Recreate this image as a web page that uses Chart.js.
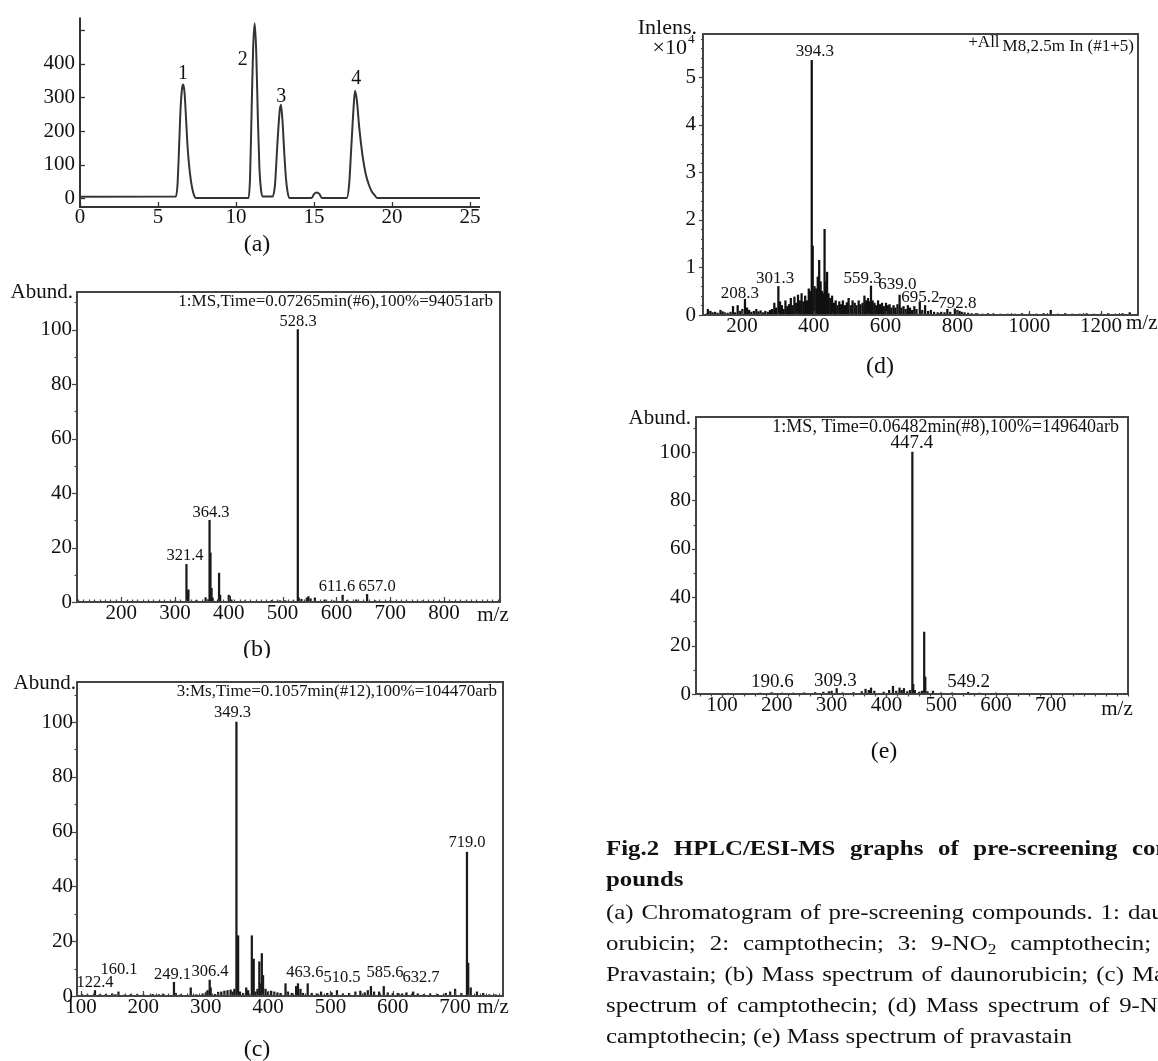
<!DOCTYPE html>
<html><head><meta charset="utf-8">
<script src="https://cdn.jsdelivr.net/npm/chart.js@4.4.1/dist/chart.umd.min.js"></script>
<style>
html,body{margin:0;padding:0;background:#fff;}
body{width:1158px;height:1061px;position:relative;overflow:hidden;}
canvas{position:absolute;}
#cap{position:absolute;left:606px;top:0;width:512px;height:1061px;transform:scaleX(1.13);transform-origin:0 0;font-family:"Liberation Serif","Times New Roman",serif;font-size:22px;color:#111;}
.ln{position:absolute;left:0;width:512px;height:31px;line-height:31px;white-space:nowrap;}
.j{display:flex;justify-content:space-between;}
.b{font-weight:bold;}
sub{font-size:0.7em;vertical-align:-0.25em;line-height:0;}
</style></head><body>
<canvas id="ca" width="500" height="258" style="left:0;top:0"></canvas>
<canvas id="cb" width="520" height="400" style="left:0;top:258px"></canvas>
<canvas id="cc" width="520" height="401" style="left:0;top:660px"></canvas>
<canvas id="cd" width="558" height="385" style="left:600px;top:0"></canvas>
<canvas id="ce" width="558" height="380" style="left:600px;top:390px"></canvas>
<div id="cap">
<div class="ln j b" style="top:832px"><span>Fig.2</span><span>HPLC/ESI-MS</span><span>graphs</span><span>of</span><span>pre-screening</span><span>com-</span></div>
<div class="ln b" style="top:863px">pounds</div>
<div class="ln j" style="top:896px"><span>(a)</span><span>Chromatogram</span><span>of</span><span>pre-screening</span><span>compounds.</span><span>1:</span><span>daun-</span></div>
<div class="ln j" style="top:927px"><span>orubicin;</span><span>2:</span><span>camptothecin;</span><span>3:</span><span>9-NO<sub>2</sub></span><span>camptothecin;</span><span>4:</span></div>
<div class="ln j" style="top:958px"><span>Pravastain;</span><span>(b)</span><span>Mass</span><span>spectrum</span><span>of</span><span>daunorubicin;</span><span>(c)</span><span>Mass</span></div>
<div class="ln j" style="top:989px"><span>spectrum</span><span>of</span><span>camptothecin;</span><span>(d)</span><span>Mass</span><span>spectrum</span><span>of</span><span>9-NO<sub>2</sub></span></div>
<div class="ln" style="top:1020px">camptothecin; (e) Mass spectrum of pravastain</div>
</div>
<script>
const SERIF='"Liberation Serif","Times New Roman",serif';

// ---------- (a) chromatogram ----------
const aTime  =[0,6.15,6.25,6.35,6.45,6.55,6.62,6.7,6.8,6.9,7.0,7.1,7.2,7.3,7.42,10.8,10.9,11.0,11.1,11.2,11.3,11.4,11.5,11.6,11.7,12.35,12.5,12.65,12.8,12.88,12.98,13.1,13.2,13.3,13.42,14.85,15.0,15.17,15.35,15.5,17.1,17.25,17.4,17.55,17.63,17.75,17.9,18.1,18.3,18.5,18.7,18.9,19.05,25.64];
const aSignal=[4,5,40,150,270,330,339,315,235,150,95,55,28,10,0,0,60,260,450,521,430,240,90,25,5,5,40,160,260,278,230,130,60,20,0,0,12,17,12,0,0,40,160,280,320,290,210,130,75,42,20,8,0,0];
const aTicksX=[0,5,10,15,20,25];
const aTicksY=[0,100,200,300,400];
const aPeakText=['1','2','3','4'];
const aPeakPos=[[6.6,370],[10.44,412],[12.9,303],[17.7,356]];

// ---------- (b) daunorubicin ----------
const bMz   =[150,175,210,240,270,300,321.4,323,325,340,357,362,364.3,366,368,370,380,382,384,400,402,405,430,480,495,505,520,528.3,530,535,545,548,552,560,578,595,611.6,620,637,657,672,700,730,760,790,840,870];
const bAbund=[0.3,0.2,0.3,0.2,0.3,0.4,13.8,4,4.5,0.6,1.6,0.8,30,18,5,1.5,0.8,10.6,2.5,2.5,2,0.8,0.4,0.6,0.5,0.5,0.4,100,1.5,1,1.5,2,1.2,1.5,0.8,0.4,2.5,0.6,0.8,2.8,0.5,0.4,0.3,0.4,0.3,0.3,0.2];
const bTicksX=[200,300,400,500,600,700,800];
const bTicksY=[0,20,40,60,80,100];
const bLabelText=['528.3','364.3','321.4','611.6','657.0'];
const bLabelPos=[[528.8,102.8],[367,32.7],[318.7,16.9],[601,5.5],[675.6,5.5]];
const bHeader='1:MS,Time=0.07265min(#6),100%=94051arb';

// ---------- (c) camptothecin ----------
const cMz   =[102,110,122.4,130,140,150,155,160.1,170,180,190,200,215,225,232,249.1,252,260,276,285,295,300,303,306.4,308,315,320,325,330,335,340,343,346,349.3,352,355,360,365,368,374,377,380,383,386,389,390,392,396,400,405,410,415,420,428,432,438,445,448,452,456,463.6,470,478,485,495,502,510.5,520,530,540,548,555,560,565,570,578,585.6,592,600,608,615,622,632.7,640,650,660,672,685,692,700,710,719,721,725,735,745,755,765];
const cAbund=[0.5,0.4,2,0.5,0.6,0.8,0.5,1.5,0.4,0.6,0.5,0.4,0.6,0.5,0.7,5,1,0.5,3,0.5,0.8,1.2,2,5.8,3,0.6,1.4,1.5,1.8,2,2.2,1.5,2.5,100,22,1.5,1,3,2,22,13.5,1.5,2.5,12.5,4.5,15.5,7.5,2.5,1.5,1.8,1.5,1.2,1,4.5,1.5,1,3.5,4.5,2.5,1,4.5,1,0.8,1.5,1,1.2,2,0.8,1,1.5,1.8,1.2,2,3.5,1.5,1.5,3.5,1.2,1,1,0.8,1.2,1.5,0.8,0.6,0.8,0.6,1,1.5,2.5,1,52.5,12,3,1.5,1,0.5,0.5];
const cTicksX=[100,200,300,400,500,600,700];
const cTicksY=[0,20,40,60,80,100];
const cLabelText=['349.3','719.0','122.4','160.1','249.1','306.4','463.6','510.5','585.6','632.7'];
const cLabelPos=[[343,103.3],[719,55.8],[122.5,4.7],[161,9.5],[246.8,7.7],[306.9,8.8],[459,8.4],[518.6,6.6],[587.6,8.4],[645.3,6.6]];
const cHeader='3:Ms,Time=0.1057min(#12),100%=104470arb';

// ---------- (d) 9-NO2 camptothecin (x10^4) ----------
const dMz =[105,112,118,125,132,140,146,152,160,168,175,181,188,195,201,208.3,214,220,226,233,240,246,252,259,265,272,278,284,290,295,301.3,306,311,316,321,326,331,336,341,346,351,356,361,366,371,376,381,386,390,394.3,397,402,407,411,415,419,423,427,430,433,437,441,446,451,456,461,466,471,476,481,487,492,497,503,508,514,519,525,530,536,541,546,551,555,559.3,564,569,574,579,584,590,595,601,606,611,616,622,627,633,639,644,650,656,662,668,674,680,686,695.2,702,710,718,726,735,745,755,764,772,780,792.8,800,806,812,820,830,840,855,870,885,900,920,940,960,980,1000,1020,1040,1060,1080,1100,1120,1140,1160,1180,1200,1220,1240,1260,1280];
const dInt=[0.12,0.08,0.05,0.06,0.04,0.1,0.07,0.05,0.04,0.06,0.18,0.05,0.2,0.08,0.12,0.33,0.15,0.1,0.06,0.08,0.12,0.07,0.09,0.05,0.08,0.06,0.1,0.12,0.25,0.15,0.6,0.28,0.2,0.12,0.3,0.18,0.22,0.35,0.2,0.38,0.25,0.42,0.3,0.45,0.28,0.4,0.3,0.55,0.5,5.35,1.45,0.6,0.55,0.8,1.15,0.7,0.5,0.45,1.8,0.7,0.9,0.45,0.35,0.4,0.25,0.3,0.2,0.28,0.22,0.3,0.2,0.26,0.35,0.2,0.3,0.25,0.2,0.3,0.22,0.25,0.4,0.3,0.35,0.28,0.61,0.3,0.25,0.2,0.3,0.22,0.25,0.18,0.25,0.2,0.22,0.15,0.2,0.15,0.22,0.42,0.15,0.18,0.12,0.2,0.15,0.1,0.18,0.12,0.27,0.1,0.2,0.08,0.1,0.06,0.05,0.06,0.05,0.12,0.06,0.13,0.1,0.08,0.06,0.05,0.04,0.03,0.03,0.02,0.03,0.02,0.02,0.02,0.02,0.03,0.02,0.02,0.03,0.1,0.02,0.03,0.02,0.02,0.03,0.02,0.02,0.03,0.02,0.03,0.05];
const dTicksX=[200,400,600,800,1000,1200];
const dTicksY=[0,1,2,3,4,5];
const dLabelText=['394.3','208.3','301.3','559.3','639.0','695.2','792.8'];
const dLabelPos=[[403,5.53],[194,0.46],[292,0.76],[536,0.76],[633,0.63],[697,0.36],[800,0.25]];
const dHeader='M8,2.5m In (#1+5)';

// ---------- (e) pravastain ----------
const eMz   =[60,80,110,140,170,190.6,210,230,250,270,285,295,300,309.3,320,340,355,362,368,372,378,395,405,412,418,424,428,432,438,443,447.4,449,452,460,465,469,471,475,485,500,520,549.2,570,600,650,700,750,800];
const eAbund=[0.3,0.2,0.3,0.3,0.4,0.6,0.4,0.4,0.5,0.6,0.8,1,1.2,2.3,0.5,0.6,1,2,1.5,2.5,1.2,0.8,1.5,3.2,1.2,2.5,1.5,2.3,1,1.5,100,4,1.5,0.8,1.2,25.6,7,1,1.2,0.5,0.5,0.7,0.4,0.4,0.3,0.3,0.3,0.2];
const eTicksX=[100,200,300,400,500,600,700];
const eTicksY=[0,20,40,60,80,100];
const eLabelText=['447.4','190.6','309.3','549.2'];
const eLabelPos=[[446.7,103.7],[192,5],[307,5.4],[550,5]];
const eHeader='1:MS, Time=0.06482min(#8),100%=149640arb';

// ---------- helpers ----------
function range(a,b,s){const r=[];for(let v=a;v<=b+1e-9;v+=s)r.push(+v.toFixed(4));return r;}

const deco={
  id:'deco',
  afterDatasetsDraw(chart,args,o){
    const c=chart.ctx,ca=chart.chartArea,sx=chart.scales.x,sy=chart.scales.y;
    c.save();
    c.strokeStyle=o.color;c.lineWidth=o.lw;
    c.beginPath();
    if(o.box){c.rect(ca.left,ca.top,ca.right-ca.left,ca.bottom-ca.top);}
    else{c.moveTo(ca.left,ca.top);c.lineTo(ca.left,ca.bottom);c.lineTo(ca.right,ca.bottom);}
    c.stroke();
    c.lineWidth=o.tw;
    const inX=v=>v>=sx.min&&v<=sx.max, inY=v=>v>=sy.min&&v<=sy.max;
    const yt=(vals,len)=>vals.filter(inY).forEach(v=>{const p=Math.round(sy.getPixelForValue(v))+0.5;c.beginPath();c.moveTo(ca.left,p);c.lineTo(ca.left+o.yDir*len,p);c.stroke();});
    const xt=(vals,len)=>vals.filter(inX).forEach(v=>{const p=Math.round(sx.getPixelForValue(v))+0.5;c.beginPath();c.moveTo(p,ca.bottom);c.lineTo(p,ca.bottom-o.xDir*len);c.stroke();});
    yt(o.yMajor,o.majLen);yt(o.yMinor,o.minLen);
    xt(o.xMajor,o.majLen);xt(o.xMinor,o.minLen);
    c.fillStyle='#111';c.textAlign='center';c.textBaseline='middle';
    c.font=o.labelFont+'px '+SERIF;
    o.labelText.forEach((t,i)=>{const p=o.labelPos[i];c.fillText(t,sx.getPixelForValue(p[0]),sy.getPixelForValue(p[1]));});
    o.texts.forEach(it=>{
      c.font=(it.bold?'bold ':'')+it.size+'px '+SERIF;
      c.textAlign=it.align||'center';c.textBaseline='middle';
      const x=it.x-o.off[0],y=it.y-o.off[1];
      c.fillText(it.t,x,y);
      if(it.sup){const w=c.measureText(it.t).width;const x0=it.align==='right'?x:x+w/2;c.font=(it.size*0.6)+'px '+SERIF;c.textAlign='left';c.fillText(it.sup,x0+1,y-it.size*0.4);}
      if(it.pre){const w=c.measureText(it.t).width;const x0=it.align==='right'?x-w:x;c.textAlign='right';c.fillText(it.pre,x0-3,y-4);}
    });
    c.restore();
  }
};

function makeChart(id,cfg){
  return new Chart(document.getElementById(id),{
    type:cfg.type,
    data:{datasets:[cfg.dataset]},
    options:{
      animation:false,responsive:false,maintainAspectRatio:false,events:[],
      layout:{padding:{top:cfg.padTop,right:cfg.padRight,left:0,bottom:0}},
      plugins:{legend:{display:false},tooltip:{enabled:false},deco:cfg.deco},
      scales:{
        x:{type:'linear',min:cfg.xMin,max:cfg.xMax,offset:false,
           grid:{display:false,drawTicks:false},border:{display:false},
           ticks:{font:{family:SERIF,size:cfg.xFont},color:'#111',padding:cfg.xPad,maxRotation:0,autoSkip:false,callback:v=>String(v)},
           afterBuildTicks:s=>{s.ticks=cfg.xTicks.map(v=>({value:v}));},
           afterFit:s=>{s.height=cfg.xAxisH;}},
        y:{type:'linear',min:cfg.yMin,max:cfg.yMax,
           grid:{display:false,drawTicks:false},border:{display:false},
           ticks:{font:{family:SERIF,size:cfg.yFont},color:'#111',padding:cfg.yPad,autoSkip:false,callback:v=>String(v)},
           afterBuildTicks:s=>{s.ticks=cfg.yTicks.map(v=>({value:v}));},
           afterFit:s=>{s.width=cfg.yAxisW;}}
      }
    },
    plugins:[deco]
  });
}
function sticks(mz,val,color,thick){
  return {type:'bar',data:mz.map((m,i)=>({x:m,y:val[i]})),backgroundColor:color,borderWidth:0,barThickness:thick,grouped:false};
}

// (a)
makeChart('ca',{type:'line',
  dataset:{data:aTime.map((t,i)=>({x:t,y:aSignal[i]})),borderColor:'#333',borderWidth:2,pointRadius:0,cubicInterpolationMode:'monotone',fill:false},
  padTop:15,padRight:20,xAxisH:51,yAxisW:80,xMin:0,xMax:25.64,yMin:-26.5,yMax:538.2,
  xTicks:aTicksX,yTicks:aTicksY,xFont:21,yFont:21,xPad:-2,yPad:5,
  deco:{box:false,color:'#333',lw:2,tw:1.3,yDir:1,xDir:1,majLen:5,minLen:3,
    yMajor:[0,100,200,300,400,500],yMinor:[],xMajor:aTicksX,xMinor:[],
    labelText:aPeakText,labelPos:aPeakPos,labelFont:20,off:[0,0],
    texts:[{t:'(a)',x:257,y:245,size:24}]}
});
// (b)
makeChart('cb',{type:'bar',dataset:sticks(bMz,bAbund,'#1a1a1a',1.6),
  padTop:34,padRight:20,xAxisH:56,yAxisW:77,xMin:118,xMax:904,yMin:0,yMax:113.8,
  xTicks:bTicksX,yTicks:bTicksY,xFont:21,yFont:21,xPad:-1,yPad:5,
  deco:{box:true,color:'#444',lw:2,tw:1.2,yDir:-1,xDir:1,majLen:5,minLen:2.5,
    yMajor:bTicksY,yMinor:range(10,110,20),xMajor:bTicksX,xMinor:range(120,900,10),
    labelText:bLabelText,labelPos:bLabelPos,labelFont:16.5,off:[0,258],
    texts:[{t:'Abund.',x:73,y:292,size:21,align:'right'},
           {t:bHeader,x:493,y:302,size:17,align:'right'},
           {t:'m/z',x:493,y:615,size:21},
           {t:'(b)',x:257,y:650,size:24}]}
});
// (c)
makeChart('cc',{type:'bar',dataset:sticks(cMz,cAbund,'#1a1a1a',1.6),
  padTop:22,padRight:17,xAxisH:65,yAxisW:77,xMin:93.6,xMax:776.8,yMin:0,yMax:114.6,
  xTicks:cTicksX,yTicks:cTicksY,xFont:21,yFont:21,xPad:-1,yPad:4,
  deco:{box:true,color:'#444',lw:2,tw:1.2,yDir:-1,xDir:1,majLen:5,minLen:2.5,
    yMajor:cTicksY,yMinor:range(10,110,20),xMajor:cTicksX,xMinor:range(100,770,10),
    labelText:cLabelText,labelPos:cLabelPos,labelFont:16.5,off:[0,660],
    texts:[{t:'Abund.',x:76,y:683,size:21,align:'right'},
           {t:cHeader,x:497,y:692,size:17,align:'right'},
           {t:'m/z',x:493,y:1007,size:21},
           {t:'(c)',x:257,y:1050,size:24}]}
});
// (d)
makeChart('cd',{type:'bar',dataset:sticks(dMz,dInt,'#111',1.6),
  padTop:34,padRight:20,xAxisH:70,yAxisW:103,xMin:91.4,xMax:1303,yMin:0,yMax:5.903,
  xTicks:dTicksX,yTicks:dTicksY,xFont:21,yFont:21,xPad:-1,yPad:7,
  deco:{box:true,color:'#444',lw:2,tw:1.2,yDir:-1,xDir:1,majLen:4,minLen:2,
    yMajor:dTicksY,yMinor:range(0.2,5.8,0.2),xMajor:dTicksX,xMinor:range(100,1300,50),
    labelText:dLabelText,labelPos:dLabelPos,labelFont:17,off:[600,0],
    texts:[{t:'Inlens.',x:697,y:28,size:22,align:'right'},
           {t:'×10',x:687,y:48,size:22,align:'right',sup:'4'},
           {t:dHeader,x:1134,y:47,size:17,align:'right',pre:'+All'},
           {t:'m/z',x:1126,y:323,size:21,align:'left'},
           {t:'(d)',x:880,y:367,size:24}]}
});
// (e)
makeChart('ce',{type:'bar',dataset:sticks(eMz,eAbund,'#1a1a1a',1.6),
  padTop:27,padRight:30,xAxisH:76,yAxisW:96,xMin:52.6,xMax:840.9,yMin:0,yMax:114.5,
  xTicks:eTicksX,yTicks:eTicksY,xFont:21,yFont:21,xPad:-1,yPad:5,
  deco:{box:true,color:'#444',lw:2,tw:1.2,yDir:-1,xDir:-1,majLen:4,minLen:2.5,
    yMajor:eTicksY,yMinor:range(10,110,20),xMajor:eTicksX,xMinor:range(60,840,20),
    labelText:eLabelText,labelPos:eLabelPos,labelFont:19,off:[600,390],
    texts:[{t:'Abund.',x:691,y:418,size:21,align:'right'},
           {t:eHeader,x:1119,y:427,size:18,align:'right'},
           {t:'m/z',x:1117,y:709,size:21},
           {t:'(e)',x:884,y:752,size:24}]}
});
</script>
</body></html>
